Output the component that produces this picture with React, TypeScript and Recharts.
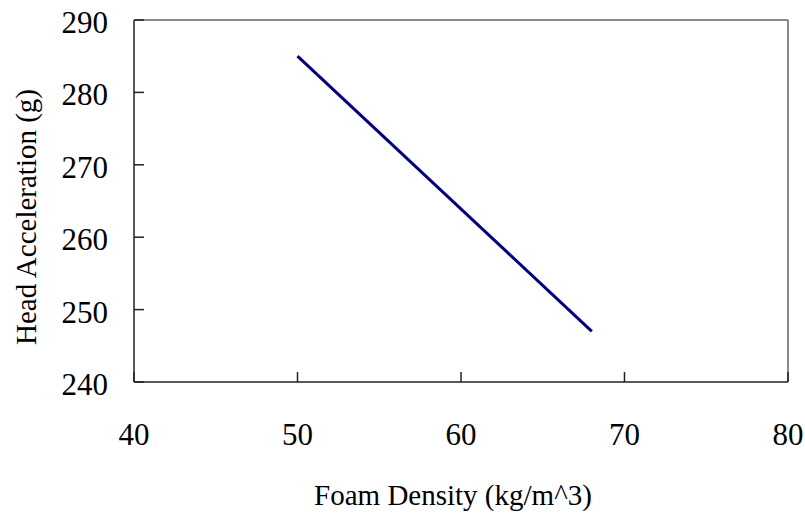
import React from 'react';
import { LineChart, Line, XAxis, YAxis, ReferenceLine } from 'recharts';

const densities = [50, 68];
const accelerations = [285, 247];
const xTicks = [40, 50, 60, 70, 80];
const yTicks = [240, 250, 260, 270, 280, 290];
const xTitle = 'Foam Density (kg/m^3)';
const yTitle = 'Head Acceleration (g)';

const data = densities.map((d, i) => ({ x: d, y: accelerations[i] }));

const FONT = '"Liberation Serif", "DejaVu Serif", serif';
const FS = 29;
const TFS = 31;

const XTick = (props: any) => {
  const { x, y, payload } = props;
  return (
    <text x={x} y={y} dy={TFS * 0.71} textAnchor="middle" fontFamily={FONT} fontSize={TFS} fill="#000">
      {payload.value}
    </text>
  );
};

const YTick = (props: any) => {
  const { x, y, payload } = props;
  return (
    <text x={x} y={y} dy={13} textAnchor="end" fontFamily={FONT} fontSize={TFS} fill="#000">
      {payload.value}
    </text>
  );
};

export default function App() {
  return (
    <div style={{ position: 'absolute', left: 0, top: 0, background: '#fff' }}>
      <LineChart width={805} height={514} data={data} margin={{ top: 20, right: 17, left: 0, bottom: 0 }}>
        <XAxis
          type="number"
          dataKey="x"
          domain={[40, 80]}
          ticks={xTicks}
          height={132}
          tickSize={-10}
          tickMargin={51}
          axisLine={{ stroke: '#222', strokeWidth: 1.5 }}
          tickLine={{ stroke: '#222', strokeWidth: 1.5 }}
          tick={<XTick />}
          label={{
            content: (props: any) => {
              const vb = props.viewBox || {};
              return (
                <text x={vb.x + vb.width / 2 - 8} y={505} textAnchor="middle" fontFamily={FONT} fontSize={FS} fill="#000">
                  {xTitle}
                </text>
              );
            },
          }}
        />
        <YAxis
          type="number"
          dataKey="y"
          domain={[240, 290]}
          ticks={yTicks}
          width={134}
          tickSize={-10}
          tickMargin={36}
          axisLine={{ stroke: '#222', strokeWidth: 1.5 }}
          tickLine={{ stroke: '#222', strokeWidth: 1.5 }}
          tick={<YTick />}
          label={{
            content: (props: any) => {
              const vb = props.viewBox || {};
              const cx = 36;
              const cy = vb.y + vb.height / 2 + 16;
              return (
                <text x={cx} y={cy} transform={`rotate(-90, ${cx}, ${cy})`} textAnchor="middle" fontFamily={FONT} fontSize={FS} fill="#000">
                  {yTitle}
                </text>
              );
            },
          }}
        />
        <ReferenceLine y={290} stroke="#888" strokeWidth={2} />
        <ReferenceLine x={80} stroke="#888" strokeWidth={2} />
        <Line type="linear" dataKey="y" stroke="#000080" strokeWidth={3} dot={false} isAnimationActive={false} />
      </LineChart>
    </div>
  );
}
